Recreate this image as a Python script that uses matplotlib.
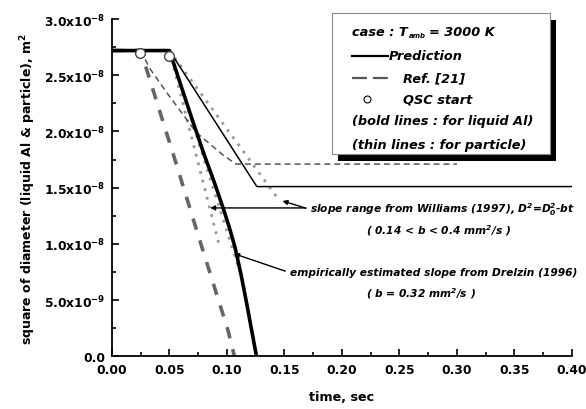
import numpy as np
import matplotlib
matplotlib.use("Agg")
import matplotlib.pyplot as plt
from matplotlib.lines import Line2D
from matplotlib.patches import Rectangle

plt.rcParams['font.family'] = ['DejaVu Sans']
plt.rcParams['mathtext.default'] = 'regular'

# prediction, liquid Al (bold solid)
t_pred_al = [0.0, 0.05, 0.06, 0.07, 0.08, 0.09, 0.097, 0.102, 0.107, 0.112, 0.117, 0.1257]
d2_pred_al = [2.72e-8, 2.72e-8, 2.41e-8, 2.10e-8, 1.80e-8, 1.52e-8, 1.31e-8,
              1.15e-8, 0.97e-8, 0.74e-8, 0.48e-8, 0.0]
# prediction, particle (thin solid)
t_pred_p = [0.0, 0.05, 0.126, 0.40]
d2_pred_p = [2.72e-8, 2.72e-8, 1.51e-8, 1.51e-8]
# Ref. [21], liquid Al (bold dashed)
t_ref_al = [0.0, 0.025, 0.0546, 0.0778, 0.101, 0.1065]
d2_ref_al = [2.72e-8, 2.72e-8, 1.756e-8, 0.985e-8, 0.228e-8, 0.0]
# Ref. [21], particle (thin dashed)
t_ref_p = [0.025, 0.033, 0.0474, 0.0735, 0.0967, 0.108, 0.30]
d2_ref_p = [2.72e-8, 2.56e-8, 2.35e-8, 1.99e-8, 1.79e-8, 1.71e-8, 1.71e-8]
# QSC start points
t_qsc = [0.024, 0.050]
d2_qsc = [2.70e-8, 2.67e-8]
# slope lines (Williams b=0.14, 0.4 and Drelzin b=0.32), start/end points
slope_t = [[0.05, 0.146], [0.05, 0.093], [0.05, 0.116]]
slope_d2 = [[2.72e-8, 1.38e-8], [2.72e-8, 1.00e-8], [2.72e-8, 0.60e-8]]

xticks = [0.0, 0.05, 0.10, 0.15, 0.20, 0.25, 0.30, 0.35, 0.40]
xlabels = ['0.00', '0.05', '0.10', '0.15', '0.20', '0.25', '0.30', '0.35', '0.40']
yticks = [0.0, 0.5e-8, 1.0e-8, 1.5e-8, 2.0e-8, 2.5e-8, 3.0e-8]
ylabels = ['0.0', '5.0x10$^{-9}$', '1.0x10$^{-8}$', '1.5x10$^{-8}$',
           '2.0x10$^{-8}$', '2.5x10$^{-8}$', '3.0x10$^{-8}$']

fig = plt.figure(figsize=(5.86, 4.10), dpi=100)
ax = fig.add_axes([0.191, 0.1285, 0.785, 0.8225])

for st, sd in zip(slope_t, slope_d2):
    ax.plot(st, sd, color='#9a9a9a', lw=2.0, ls=(0, (1, 2.2)), zorder=1)

ax.plot(t_ref_p, d2_ref_p, color='#555555', lw=1.1, ls=(0, (3.9, 2.6)), zorder=2)
ax.plot(t_ref_al, d2_ref_al, color='#666666', lw=2.6, ls=(0, (3.2, 3.1)), zorder=2)
ax.plot(t_pred_p, d2_pred_p, color='black', lw=1.1, zorder=3)
ax.plot(t_pred_al, d2_pred_al, color='black', lw=2.6, zorder=3)
ax.plot(t_qsc, d2_qsc, ls='none', marker='o', ms=7, mfc='white', mec='#444444',
        mew=1.0, zorder=5)

ax.set_xlim(0, 0.40)
ax.set_ylim(0, 3.0e-8)
ax.set_xticks(xticks)
ax.set_xticklabels(xlabels)
ax.set_yticks(yticks)
ax.set_yticklabels(ylabels)
ax.set_xticks(np.arange(0.025, 0.4, 0.05), minor=True)
ax.set_yticks(np.arange(0.25e-8, 3.0e-8, 0.5e-8), minor=True)
ax.tick_params(direction='in', length=5, width=1.2, labelsize=8.8, pad=5)
ax.tick_params(which='minor', direction='in', length=3, width=1.2)
for lab in ax.get_xticklabels() + ax.get_yticklabels():
    lab.set_fontweight('bold')
ax.spines['top'].set_visible(False)
ax.spines['right'].set_visible(False)
ax.spines['left'].set_linewidth(1.3)
ax.spines['bottom'].set_linewidth(1.3)

ax.set_xlabel('time, sec', fontsize=9.2, fontweight='bold', labelpad=10)
ax.set_ylabel('square of diameter (liquid Al & particle), m$^2$', fontsize=9,
              fontweight='bold', labelpad=4)

# annotations
ann = dict(fontsize=7.7, fontweight='bold', fontstyle='italic')
ax.text(0.1725, 1.315e-8, 'slope range from Williams (1997), D$^2$=D$_0^2$-bt',
        va='center', ha='left', **ann)
ax.text(0.284, 1.13e-8, '( 0.14 < b < 0.4 mm$^2$/s )', va='center', ha='center', **ann)
ax.text(0.155, 0.75e-8, 'empirically estimated slope from Drelzin (1996)',
        va='center', ha='left', **ann)
ax.text(0.269, 0.57e-8, '( b = 0.32 mm$^2$/s )', va='center', ha='center', **ann)
arr = dict(arrowstyle='-|>', color='black', lw=1.0, mutation_scale=7)
ax.annotate('', xy=(0.083, 1.32e-8), xytext=(0.171, 1.32e-8), arrowprops=arr)
ax.annotate('', xy=(0.146, 1.39e-8), xytext=(0.171, 1.31e-8), arrowprops=arr)
ax.annotate('', xy=(0.104, 0.92e-8), xytext=(0.153, 0.75e-8), arrowprops=arr)

# legend box with shadow
fig.patches.append(Rectangle((0.5765, 0.604), 0.372, 0.344, transform=fig.transFigure,
                             facecolor='black', edgecolor='none', zorder=9))
fig.patches.append(Rectangle((0.566, 0.622), 0.3726, 0.344, transform=fig.transFigure,
                             facecolor='white', edgecolor='#888888', lw=0.8, zorder=10))
leg = dict(fontsize=9.3, fontweight='bold', fontstyle='italic', zorder=11, va='center')


def fx(px):
    return px / 586.0


def fy(py):
    return 1 - py / 410.0


renderer = fig.canvas.get_renderer()
t1 = fig.text(fx(352), fy(32), 'case : T', **leg)
x_end = t1.get_window_extent(renderer).x1
t2 = fig.text(fx(x_end + 1), fy(36), 'amb', fontsize=5, fontweight='bold',
              fontstyle='italic', zorder=11, va='center')
x_end = t2.get_window_extent(renderer).x1
fig.text(fx(x_end + 3), fy(32), '= 3000 K', **leg)

fig.add_artist(Line2D([fx(352), fx(388)], [fy(57), fy(57)], color='black', lw=1.6, zorder=11))
fig.text(fx(389), fy(57), 'Prediction', **leg)
fig.add_artist(Line2D([fx(352), fx(388)], [fy(79), fy(79)], color='#555555', lw=1.6,
                      ls=(0, (6.7, 2.7)), zorder=11))
fig.text(fx(403), fy(79), 'Ref. [21]', **leg)
fig.add_artist(Line2D([fx(367)], [fy(100)], ls='none', marker='o', ms=5, mfc='white',
                      mec='black', mew=0.8, zorder=11))
fig.text(fx(403), fy(100), 'QSC start', **leg)
fig.text(fx(352), fy(122), '(bold lines : for liquid Al)', **leg)
fig.text(fx(352), fy(145), '(thin lines : for particle)', **leg)

fig.savefig('out.png', dpi=100)
